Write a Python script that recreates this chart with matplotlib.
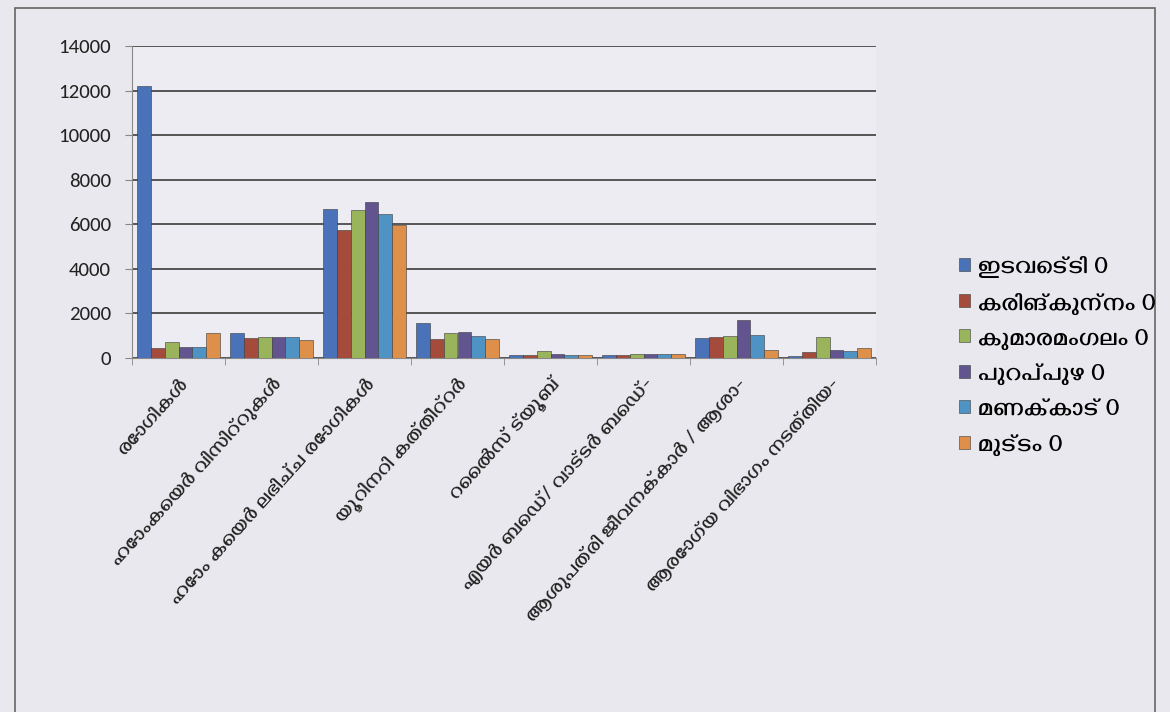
import matplotlib
matplotlib.use('Agg')
import matplotlib.pyplot as plt
from matplotlib.patches import Rectangle
import numpy as np

ML = ['Gayathri', 'DejaVu Sans']

categories = ['രോഗികൾ', 'ഹോംകെയർ വിസിറ്റുകൾ', 'ഹോം കെയർ ലഭിച്ച രോഗികൾ',
              'യൂറിനറി കത്തീറ്റർ', 'റൈൽസ് ട്യൂബ്', 'എയർ ബെഡ്/ വാട്ടർ ബെഡ്-',
              'ആശുപത്രി ജീവനക്കാർ / ആശാ-', 'ആരോഗ്യ വിഭാഗം നടത്തിയ-']
series = ['ഇടവെട്ടി 0', 'കരിങ്കുന്നം 0', 'കുമാരമംഗലം 0', 'പുറപ്പുഴ 0', 'മണക്കാട് 0', 'മുട്ടം 0']

edavetti = [12200, 1100, 6700, 1550, 150, 150, 900, 100]
karimkunnam = [450, 900, 5750, 850, 120, 150, 950, 250]
kumaramangalam = [720, 950, 6650, 1100, 300, 180, 1000, 950]
purappuzha = [500, 950, 7000, 1150, 200, 180, 1700, 350]
manakkad = [500, 950, 6450, 1000, 150, 180, 1050, 300]
muttam = [1100, 800, 5950, 850, 150, 180, 350, 450]
values = [edavetti, karimkunnam, kumaramangalam, purappuzha, manakkad, muttam]

colors = ['#4a72b8', '#a44b3c', '#9ab45c', '#62558f', '#4e93c4', '#de8f4a']

fig = plt.figure(figsize=(11.7, 7.12), dpi=100, facecolor='#e8e8ee')
ax = fig.add_axes([132 / 1170, 1 - 358 / 712, 744 / 1170, 312 / 712])
ax.set_facecolor('#ececf2')

x = np.arange(len(categories))
wid = 0.15
bars = []
for i, vals in enumerate(values):
    b = ax.bar(x + (i - 2.5) * wid, vals, width=wid, color=colors[i],
               edgecolor='#3a3a3a', linewidth=0.4, zorder=3)
    bars.append(b)

ax.set_xlim(-0.5, len(categories) - 0.5)
ax.set_ylim(0, 14000)
ax.set_yticks(range(0, 14001, 2000))
ax.yaxis.grid(True, color='#4a4a4a', linewidth=1.3, zorder=0)
ax.set_axisbelow(True)
for s in ['top', 'right']:
    ax.spines[s].set_visible(False)
ax.spines['left'].set_color('#888888')
ax.spines['bottom'].set_color('#888888')
ax.tick_params(axis='y', direction='out', length=5, color='#888888', labelsize=15, pad=10)
for t in ax.get_yticklabels():
    t.set_family(['Carlito', 'Liberation Sans', 'DejaVu Sans'])
    t.set_color('#222222')

ax.set_xticks(x)
ax.set_xticklabels(categories, rotation=48, ha='right', rotation_mode='anchor',
                   family=ML, fontsize=15, fontweight='bold', color='#222222')
ax.tick_params(axis='x', length=0, pad=12)
ax.set_xticks(np.arange(-0.5, len(categories), 1), minor=True)
ax.tick_params(axis='x', which='minor', length=5, color='#888888')

fig.legend(bars, series, loc='upper left', bbox_to_anchor=(936 / 1170, 1 - 234 / 712),
           frameon=False, prop={'family': ML, 'size': 18, 'weight': 'bold'},
           handlelength=0.45, handleheight=0.45, handletextpad=0.35, labelspacing=0.56)

fig.patches.append(Rectangle((15 / 1170, -0.02), 1140 / 1170, 1 - 8 / 712 + 0.02,
                             transform=fig.transFigure, fill=False,
                             edgecolor='#666666', linewidth=1.2))

fig.savefig('out.png', facecolor=fig.get_facecolor())
